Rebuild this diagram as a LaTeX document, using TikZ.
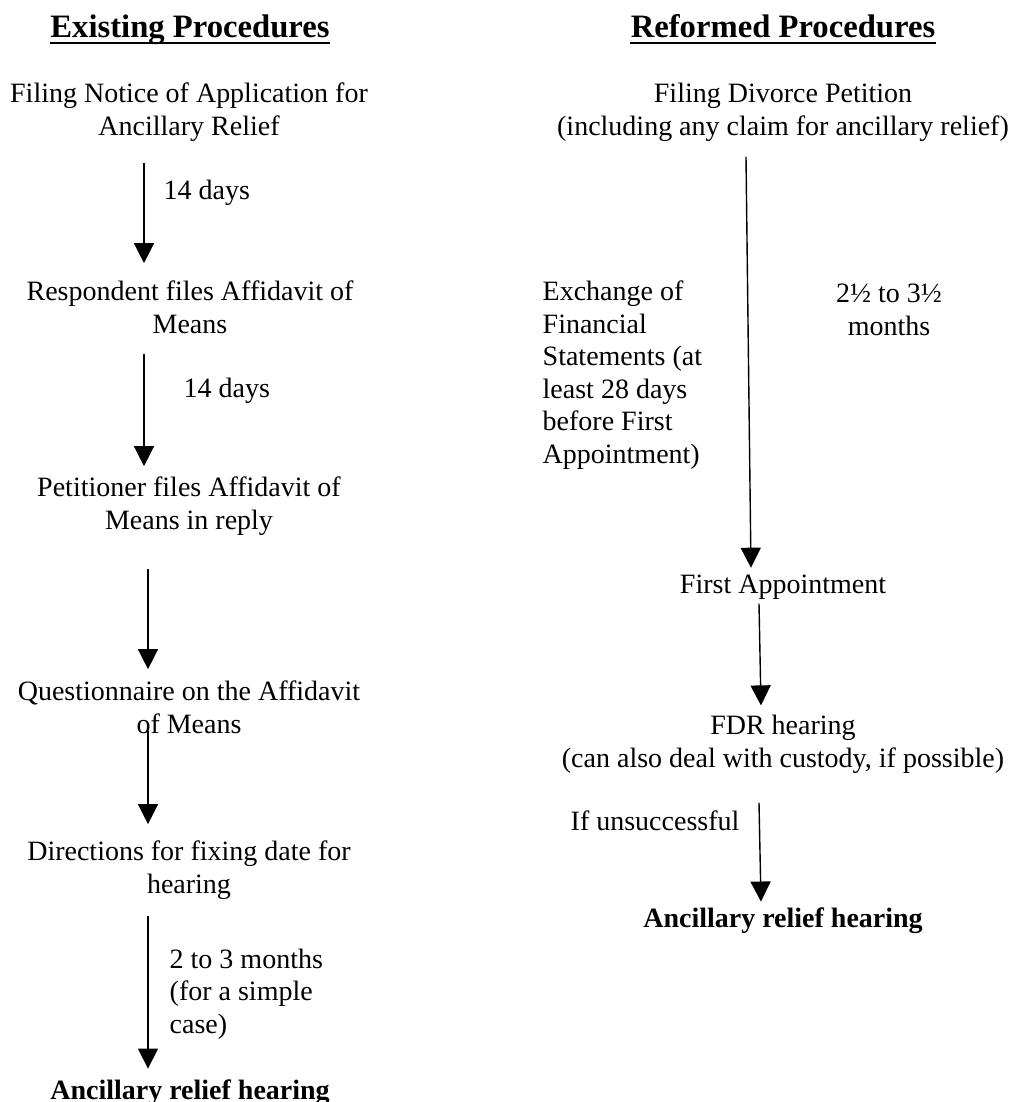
\documentclass[tikz,border=0pt]{standalone}
\usepackage{fontspec}
\setmainfont{Liberation Serif}
\usetikzlibrary{arrows.meta, calc}

\begin{document}
\begin{tikzpicture}[x=0.4286pt, y=-0.4286pt, >={Triangle[length=8.6pt,width=8.6pt]}, line width=0.6pt,
  stage/.style={align=center, inner sep=0pt, anchor=base, font=\fontsize{12}{13.9}\selectfont},
  note/.style={align=left, inner sep=0pt, anchor=base west, font=\fontsize{12}{13.9}\selectfont},
  head/.style={inner sep=0pt, anchor=base, font=\fontsize{14}{16}\selectfont\bfseries},
  final/.style={stage, font=\fontsize{12}{13.9}\selectfont\bfseries}]
  \useasboundingbox (0,0) rectangle (1009,1102);
  % ===== Existing procedures =====
  \node[head] (exist) at (190,37) {Existing Procedures};
  \draw[line width=1.1pt] ($(exist.base west)+(0,6)$) -- ($(exist.base east)+(0,6)$);
  \node[stage] (notice) at (189,135) {Filing Notice of Application for\\Ancillary Relief};
  \node[stage] (respond) at (190,333) {Respondent files Affidavit of\\Means};
  \node[stage] (petition) at (189,529) {Petitioner files Affidavit of\\Means in reply};
  \node[stage] (quest) at (189,733) {Questionnaire on the Affidavit\\of Means};
  \node[stage] (direct) at (189,893) {Directions for fixing date for\\hearing};
  \node[final] (hearL) at (190,1099) {Ancillary relief hearing};
  \node[note] (days1) at (163,199) {14 days};
  \node[note] (days2) at (183,397) {14 days};
  \node[note] (months3) at (169,1033) {2 to 3 months\\(for a simple\\case)};
  \draw[->] ($(notice.south)+(-45,21)$) -- ($(respond.north)+(-46,-17)$);
  \draw[->] ($(respond.south)+(-46,20)$) -- ($(petition.north)+(-45,-10)$);
  \draw[->] ($(petition.south)+(-41,33)$) -- ($(quest.north)+(-41,-11)$);
  \draw[->] ($(quest.south)+(-41,-3)$) -- ($(direct.north)+(-41,-16)$);
  \draw[->] ($(direct.south)+(-41,16)$) -- ($(hearL.north)+(-42,-10)$);
  % ===== Reformed procedures =====
  \node[head] (reform) at (783,37) {Reformed Procedures};
  \draw[line width=1.1pt] ($(reform.base west)+(0,6)$) -- ($(reform.base east)+(0,6)$);
  \node[stage] (divorce) at (783,135) {Filing Divorce Petition\\(including any claim for ancillary relief)};
  \node[stage] (first) at (783,593) {First Appointment};
  \node[stage] (fdr) at (783,767) {FDR hearing\\(can also deal with custody, if possible)};
  \node[final] (hearR) at (783,927) {Ancillary relief hearing};
  \node[note] (exchange) at (542,463) {Exchange of\\Financial\\Statements (at\\least 28 days\\before First\\Appointment)};
  \node[stage] (period) at (889,335) {2½ to 3½\\months};
  \node[note] (unsucc) at (570,830) {If unsuccessful};
  \draw[->] ($(divorce.south)+(-37,15)$) -- ($(first.north)+(-32,-6)$);
  \draw[->] ($(first.south)+(-24,4)$) -- ($(fdr.north)+(-22,-9)$);
  \draw[->] ($(fdr.south)+(-24,29)$) -- ($(hearR.north)+(-22,-5)$);
\end{tikzpicture}
\end{document}
